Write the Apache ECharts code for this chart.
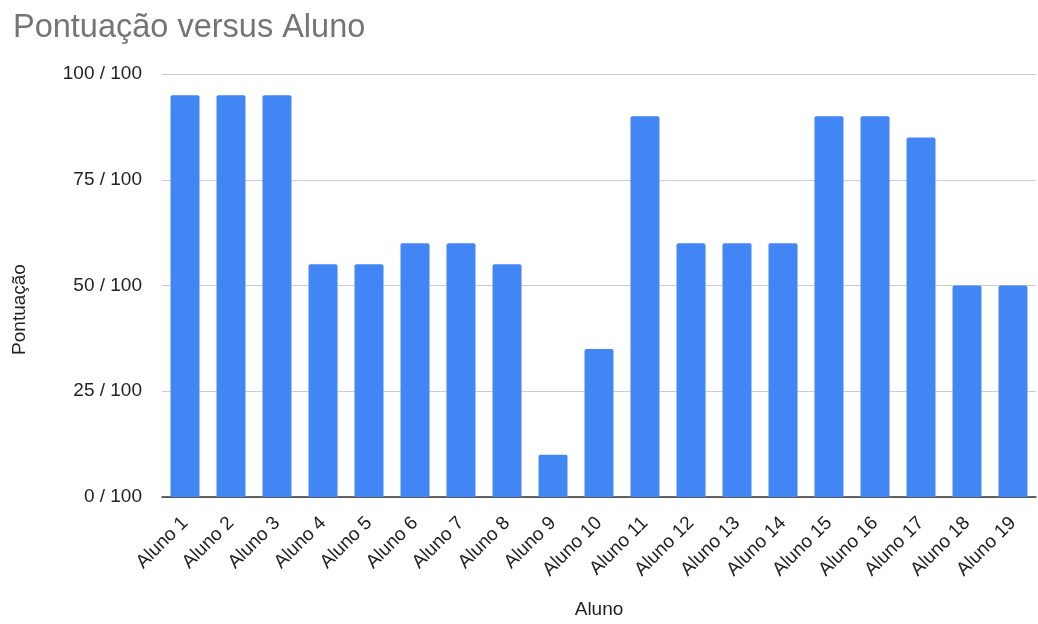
<!DOCTYPE html>
<html>
<head>
<meta charset="utf-8">
<script src="https://cdn.jsdelivr.net/npm/echarts@6/dist/echarts.min.js"></script>
<style>html,body{margin:0;padding:0;background:#fff}#c{width:1038px;height:624px}</style>
</head>
<body>
<div id="c"></div>
<script>
const categories = ["Aluno 1","Aluno 2","Aluno 3","Aluno 4","Aluno 5","Aluno 6","Aluno 7","Aluno 8","Aluno 9","Aluno 10","Aluno 11","Aluno 12","Aluno 13","Aluno 14","Aluno 15","Aluno 16","Aluno 17","Aluno 18","Aluno 19"];
const scores = [95,95,95,55,55,60,60,55,10,35,90,60,60,60,90,90,85,50,50];
const yTicks = [0,25,50,75,100];
const tickSuffix = " / 100";

const chart = echarts.init(document.getElementById('c'), null, {renderer:'canvas'});
const font = 'Arial, "Liberation Sans", sans-serif';
chart.setOption({
  animation:false,
  textStyle:{fontFamily:font},
  title:{text:'Pontuação versus Aluno',left:8,top:7,textStyle:{fontSize:32.5,fontWeight:'normal',color:'#757575',fontFamily:font}},
  grid:{left:162,right:2,top:74,bottom:124},
  xAxis:{type:'category',data:categories,
    axisLine:{lineStyle:{color:'#333',width:1.5}},
    axisTick:{show:false},
    axisLabel:{rotate:45,color:'#222',fontSize:19,margin:23,interval:0,fontFamily:font},
    name:'Aluno',nameLocation:'middle',nameGap:103,
    nameTextStyle:{fontSize:19,color:'#222',fontFamily:font}},
  yAxis:{type:'value',min:yTicks[0],max:yTicks[yTicks.length-1],interval:25,
    axisLabel:{formatter:v=>v+tickSuffix,color:'#222',fontSize:19,margin:20,fontFamily:font},
    splitLine:{lineStyle:{color:'#ccc',width:1}},
    axisLine:{show:false},axisTick:{show:false},
    name:'Pontuação',nameLocation:'middle',nameGap:133,
    nameTextStyle:{fontSize:19,color:'#222',fontFamily:font,padding:[0,48,0,0]}},
  series:[{type:'bar',data:scores,barWidth:29,itemStyle:{color:'#4285F4',borderRadius:[2,2,0,0]}}]
});
</script>
</body>
</html>
